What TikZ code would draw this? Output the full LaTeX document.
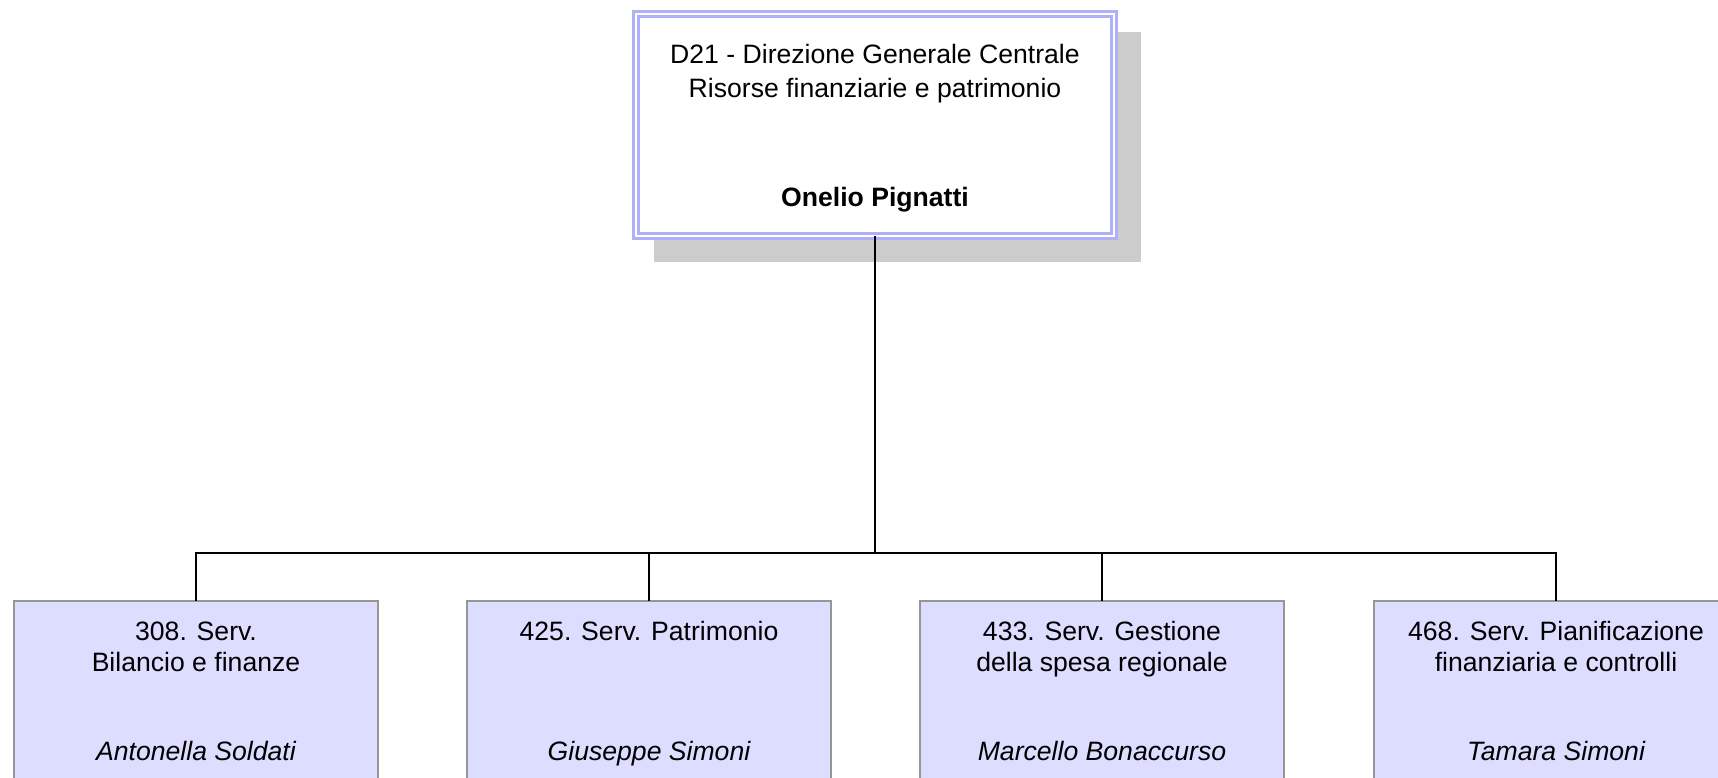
\documentclass[tikz,border=0pt]{standalone}
\usepackage{fontspec}
\setmainfont{Liberation Sans}
\definecolor{boxfill}{RGB}{221,221,255}
\definecolor{boxline}{RGB}{150,150,150}
\definecolor{topline}{RGB}{176,176,250}
\definecolor{shadowgray}{RGB}{204,204,204}
\begin{document}
\begin{tikzpicture}[x=1pt,y=-1pt,
  conn/.style={draw=black,line width=1.5pt},
  topbox/.style={rectangle,draw=topline,double=white,double distance=1.7pt,line width=3pt,
    fill=white,inner sep=0pt,outer sep=0pt,minimum width=478.3pt,minimum height=222.3pt},
  subbox/.style={rectangle,draw=boxline,line width=1.5pt,fill=boxfill,inner sep=0pt,
    outer sep=0pt,minimum width=364pt,minimum height=300pt},
  txt/.style={anchor=base,inner sep=0pt,font=\fontsize{26.6}{33}\selectfont},
  shadowbox/.style={rectangle,fill=shadowgray,inner sep=0pt,minimum width=487pt,minimum height=230pt}]
\useasboundingbox (0,0) rectangle (1718,777);
\clip (0,0) rectangle (1718,777);
\node[shadowbox] (sh) at (897.5,147) {};
\node[subbox] (b1) at (196,751) {};
\node[subbox] (b2) at (649,751) {};
\node[subbox] (b3) at (1102,751) {};
\node[subbox] (b4) at (1556,751) {};
\coordinate (j) at (875,553);
\node[topbox] (top) at (875,125) {};
\draw[conn] (top.south) -- (j);
\draw[conn] (b1.north) |- (j) -| (b4.north);
\draw[conn] (j) -| (b2.north);
\draw[conn] (j) -| (b3.north);
\node[txt] (t1) at (875,63) {D21 - Direzione Generale Centrale};
\node[txt] (t2) at (875,97) {Risorse finanziarie e patrimonio};
\node[txt,font=\fontsize{26.6}{33}\selectfont\bfseries] (t3) at (875,206) {Onelio Pignatti};
\node[txt] (a1) at (196,640) {308. Serv.};
\node[txt] (a2) at (196,671) {Bilancio e finanze};
\node[txt,font=\fontsize{26.6}{33}\selectfont\itshape] (a3) at (196,760) {Antonella Soldati};
\node[txt] (c1) at (649,640) {425. Serv. Patrimonio};
\node[txt,font=\fontsize{26.6}{33}\selectfont\itshape] (c3) at (649,760) {Giuseppe Simoni};
\node[txt] (d1) at (1102,640) {433. Serv. Gestione};
\node[txt] (d2) at (1102,671) {della spesa regionale};
\node[txt,font=\fontsize{26.6}{33}\selectfont\itshape] (d3) at (1102,760) {Marcello Bonaccurso};
\node[txt] (e1) at (1556,640) {468. Serv. Pianificazione};
\node[txt] (e2) at (1556,671) {finanziaria e controlli};
\node[txt,font=\fontsize{26.6}{33}\selectfont\itshape] (e3) at (1556,760) {Tamara Simoni};
\end{tikzpicture}
\end{document}
